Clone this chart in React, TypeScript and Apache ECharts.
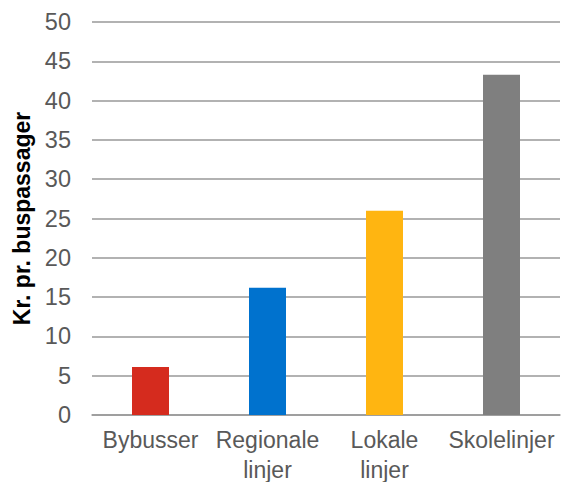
import React, { useEffect, useRef } from "react";
import * as echarts from "echarts";

const categories = ["Bybusser", "Regionale\nlinjer", "Lokale\nlinjer", "Skolelinjer"];
const values = [6.1, 16.2, 26.0, 43.3];
const barColors = ["#D52B1E", "#0072CE", "#FFB511", "#7F7F7F"];
const yTitle = "Kr. pr. buspassager";

export default function App() {
  const ref = useRef<HTMLDivElement>(null);
  useEffect(() => {
    document.body.style.margin = "0";
    const chart = echarts.init(ref.current!, undefined, { renderer: "svg" });
    chart.setOption({
      animation: false,
      grid: { left: 92, right: 1, top: 22, bottom: 67, containLabel: false, outerBoundsMode: "none" },
      xAxis: {
        type: "category",
        data: categories,
        axisTick: { show: false },
        axisLine: { lineStyle: { color: "#999999", width: 1.5 } },
        axisLabel: {
          color: "#595959",
          fontFamily: "Liberation Sans, Arial, sans-serif",
          fontSize: 23,
          lineHeight: 30,
          margin: 10,
          interval: 0,
        },
      },
      yAxis: {
        type: "value",
        min: 0,
        max: 50,
        interval: 5,
        name: yTitle,
        nameLocation: "middle",
        nameGap: 58,
        nameTextStyle: {
          color: "#000000",
          fontWeight: "bold",
          fontSize: 23,
          fontFamily: "Liberation Sans, Arial, sans-serif",
        },
        axisLine: { show: false },
        axisTick: { show: false },
        splitLine: { lineStyle: { color: "#999999", width: 1.5 } },
        axisLabel: {
          color: "#595959",
          fontFamily: "Liberation Sans, Arial, sans-serif",
          fontSize: 23.5,
          margin: 21,
        },
      },
      series: [
        {
          type: "bar",
          barWidth: 37,
          data: values.map((v, i) => ({ value: v, itemStyle: { color: barColors[i] } })),
        },
      ],
    });
    return () => chart.dispose();
  }, []);
  return <div ref={ref} style={{ width: 561, height: 482 }} />;
}
